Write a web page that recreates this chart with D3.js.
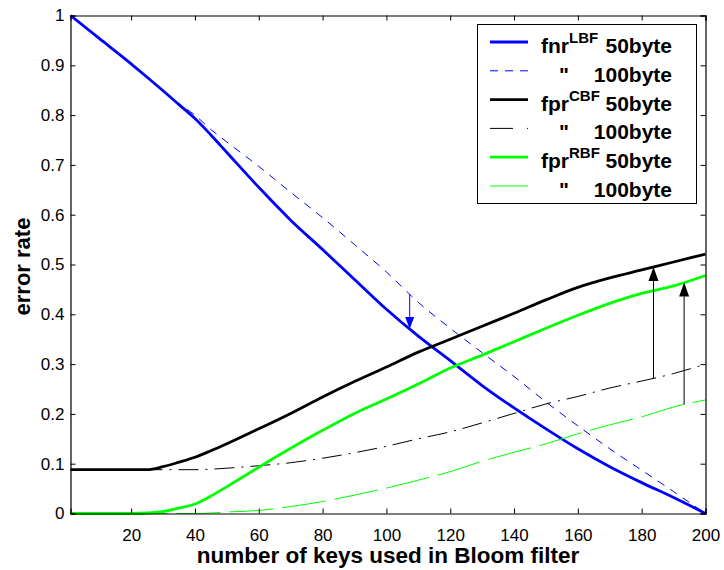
<!DOCTYPE html>
<html>
<head>
<meta charset="utf-8">
<script src="https://cdn.jsdelivr.net/npm/d3@7"></script>
<style>
  html, body { margin: 0; padding: 0; background: #fff; }
  svg { display: block; font-family: Arial, "Liberation Sans", Helvetica, sans-serif; }
</style>
</head>
<body>
<svg id="chart" width="724" height="570"></svg>
<script>
// Number of keys inserted into the Bloom filter
const keys = [1, 10, 20, 25, 30, 35, 40, 45, 50, 60, 70, 80, 90, 100, 110, 120, 130, 140, 150, 160, 170, 180, 190, 200];

// Error rates per filter type and size
const fnrLbf50  = [1.000, 0.954, 0.903, 0.876, 0.849, 0.821, 0.793, 0.760, 0.725, 0.655, 0.589, 0.530, 0.470, 0.410, 0.356, 0.307, 0.257, 0.212, 0.170, 0.130, 0.094, 0.062, 0.032, 0.000];
const fnrLbf100 = [1.000, 0.954, 0.903, 0.876, 0.849, 0.823, 0.800, 0.771, 0.746, 0.697, 0.645, 0.594, 0.540, 0.485, 0.424, 0.372, 0.323, 0.275, 0.224, 0.176, 0.130, 0.087, 0.044, 0.000];
const fprCbf50  = [0.088, 0.088, 0.088, 0.088, 0.094, 0.103, 0.113, 0.126, 0.140, 0.170, 0.201, 0.234, 0.265, 0.294, 0.324, 0.350, 0.376, 0.402, 0.429, 0.454, 0.473, 0.489, 0.505, 0.521];
const fprCbf100 = [0.088, 0.088, 0.088, 0.088, 0.088, 0.088, 0.088, 0.089, 0.091, 0.096, 0.102, 0.111, 0.122, 0.135, 0.150, 0.164, 0.182, 0.201, 0.220, 0.235, 0.252, 0.266, 0.281, 0.300];
const fprRbf50  = [0.000, 0.000, 0.000, 0.001, 0.004, 0.011, 0.019, 0.035, 0.054, 0.093, 0.131, 0.167, 0.201, 0.230, 0.260, 0.292, 0.318, 0.345, 0.372, 0.398, 0.422, 0.442, 0.457, 0.478];
const fprRbf100 = [0.000, 0.000, 0.000, 0.000, 0.000, 0.000, 0.000, 0.001, 0.003, 0.006, 0.014, 0.024, 0.037, 0.051, 0.067, 0.084, 0.105, 0.123, 0.140, 0.160, 0.178, 0.194, 0.214, 0.228];

// Axis ticks and titles
const xTicks = [20, 40, 60, 80, 100, 120, 140, 160, 180, 200];
const yTicks = [0, 0.1, 0.2, 0.3, 0.4, 0.5, 0.6, 0.7, 0.8, 0.9, 1];
const xTitle = "number of keys used in Bloom filter";
const yTitle = "error rate";

// Legend entries: name, superscript, size
const legendNames = ["fnr", "", "fpr", "", "fpr", ""];
const legendSups  = ["LBF", "", "CBF", "", "RBF", ""];
const legendSizes = ["50byte", "100byte", "50byte", "100byte", "50byte", "100byte"];

// Arrows showing the change from 100byte to 50byte filters
const arrowKeys = [107.3, 183.7, 193.3];
const arrowFrom = ["fnrLbf100", "fprCbf100", "fprRbf100"];
const arrowTo   = ["fnrLbf50", "fprCbf50", "fprRbf50"];

const seriesData = { fnrLbf50, fnrLbf100, fprCbf50, fprCbf100, fprRbf50, fprRbf100 };

const styles = [
  { id: "fnrLbf50",  color: "#0000ff", width: 2.8, dash: null },
  { id: "fnrLbf100", color: "#0000ff", width: 1,   dash: "8,7" },
  { id: "fprCbf50",  color: "#000000", width: 2.8, dash: null },
  { id: "fprCbf100", color: "#000000", width: 1,   dash: "20,7,2,7", legendDash: "23,14,1,1" },
  { id: "fprRbf50",  color: "#00ff00", width: 2.8, dash: null },
  { id: "fprRbf100", color: "#00ff00", width: 1,   dash: "44,9" }
];
const arrowColors = ["#0000ff", "#000000", "#000000"];

const svg = d3.select("#chart");
const plotLeft = 70.5, plotRight = 705.5, plotTop = 15.5, plotBottom = 513.5;

const x = d3.scaleLinear().domain([1, 200]).range([plotLeft, plotRight]);
const y = d3.scaleLinear().domain([0, 1]).range([plotBottom, plotTop]);

svg.append("rect").attr("width", 724).attr("height", 570).attr("fill", "#fff");

// Series lines
const plot = svg.append("g");
const line = d3.line()
  .x((d, i) => x(keys[i]))
  .y(d => y(d))
  .curve(d3.curveMonotoneX);

styles.forEach(s => {
  plot.append("path")
    .datum(seriesData[s.id])
    .attr("fill", "none")
    .attr("stroke", s.color)
    .attr("stroke-width", s.width)
    .attr("stroke-dasharray", s.dash)
    .attr("stroke-linejoin", "round")
    .attr("d", line);
});

// Arrows between matching series
const interp = (arr, k) => d3.scaleLinear().domain(keys).range(arr)(k);
arrowKeys.forEach((k, i) => {
  const px = x(k);
  const y0 = y(interp(seriesData[arrowFrom[i]], k));
  const y1 = y(interp(seriesData[arrowTo[i]], k));
  const dir = y1 > y0 ? 1 : -1;
  const headLen = i === 0 ? 12 : 14;
  const headHalf = i === 0 ? 4.5 : 5;
  plot.append("line")
    .attr("x1", px).attr("x2", px)
    .attr("y1", y0).attr("y2", y1 - dir * headLen)
    .attr("stroke", arrowColors[i]).attr("stroke-width", 1);
  plot.append("path")
    .attr("d", `M${px},${y1} L${px - headHalf},${y1 - dir * headLen} L${px + headHalf},${y1 - dir * headLen} Z`)
    .attr("fill", arrowColors[i]);
});

// Axes with inward ticks on all four sides
const fmt = d => String(d);
const gx = svg.append("g").attr("transform", `translate(0,${plotBottom})`)
  .call(d3.axisBottom(x).tickValues(xTicks).tickSize(-5).tickPadding(15).tickFormat(fmt));
const gy = svg.append("g").attr("transform", `translate(${plotLeft},0)`)
  .call(d3.axisLeft(y).tickValues(yTicks).tickSize(-5).tickPadding(6).tickFormat(fmt));
svg.append("g").attr("transform", `translate(0,${plotTop})`)
  .call(d3.axisTop(x).tickValues(xTicks).tickSize(-5).tickFormat(""));
svg.append("g").attr("transform", `translate(${plotRight},0)`)
  .call(d3.axisRight(y).tickValues(yTicks).tickSize(-5).tickFormat(""));

svg.selectAll(".domain").attr("stroke", "#000").attr("stroke-width", 1.2);
svg.selectAll(".tick line").attr("stroke", "#000");
[gx, gy].forEach(g => g.selectAll("text")
  .attr("fill", "#000")
  .style("font-size", "17px")
  .style("font-family", 'Arial, "Liberation Sans", sans-serif'));

// Axis titles
svg.append("text")
  .attr("x", (plotLeft + plotRight) / 2).attr("y", 563)
  .attr("text-anchor", "middle")
  .style("font-size", "22.5px").style("font-weight", "bold")
  .text(xTitle);
svg.append("text")
  .attr("transform", `translate(30,${(plotTop + plotBottom) / 2 + 2}) rotate(-90)`)
  .attr("text-anchor", "middle")
  .style("font-size", "22px").style("font-weight", "bold")
  .text(yTitle);

// Legend
const lg = svg.append("g");
lg.append("rect")
  .attr("x", 477.5).attr("y", 24.5).attr("width", 219).attr("height", 179)
  .attr("fill", "#fff").attr("stroke", "#000").attr("stroke-width", 1);

styles.forEach((s, i) => {
  const ry = 42 + i * 28.8;
  lg.append("line")
    .attr("x1", 490).attr("x2", 528).attr("y1", ry).attr("y2", ry)
    .attr("stroke", s.color).attr("stroke-width", s.width)
    .attr("stroke-dasharray", s.legendDash || s.dash);
  if (legendNames[i]) {
    const t = lg.append("text")
      .attr("x", 541).attr("y", ry + 11)
      .style("font-size", "21px").style("font-weight", "bold");
    t.append("tspan").text(legendNames[i]);
    t.append("tspan").attr("dy", -10).style("font-size", "15px").text(legendSups[i]);
  } else {
    lg.append("text")
      .attr("x", 559).attr("y", ry + 11)
      .style("font-size", "21px").style("font-weight", "bold")
      .text('"');
  }
  lg.append("text")
    .attr("x", 672).attr("y", ry + 11)
    .attr("text-anchor", "end")
    .style("font-size", "21px").style("font-weight", "bold")
    .text(legendSizes[i]);
});
</script>
</body>
</html>
